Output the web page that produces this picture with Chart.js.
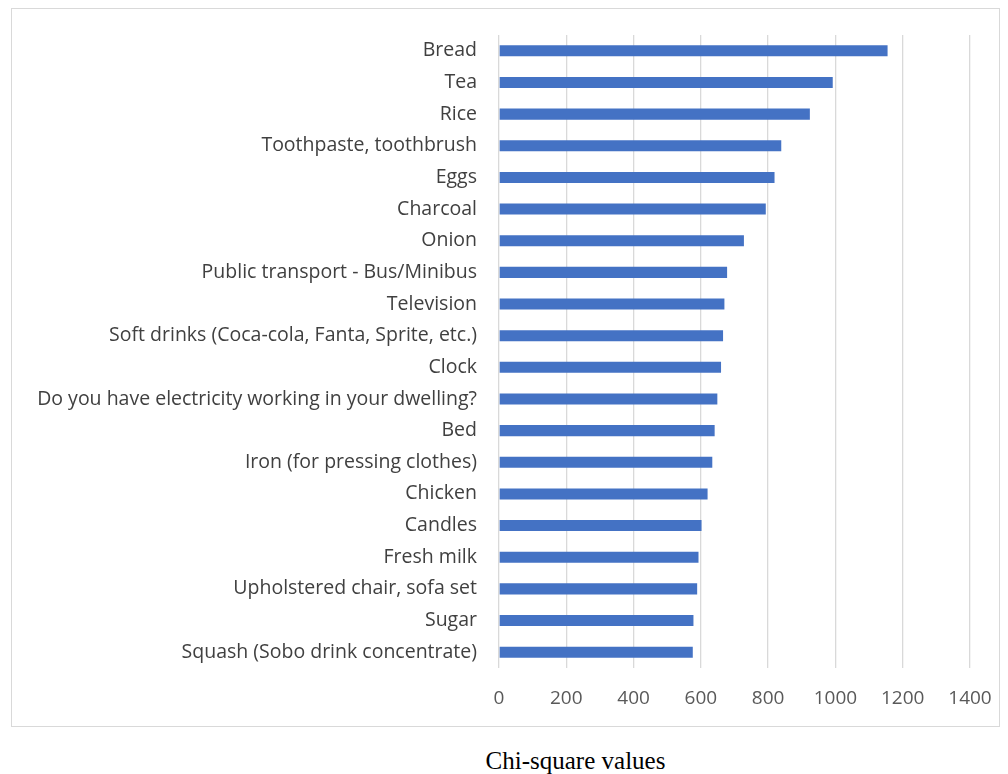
<!DOCTYPE html>
<html>
<head>
<meta charset="utf-8">
<script src="https://cdn.jsdelivr.net/npm/chart.js@4.4.1/dist/chart.umd.min.js"></script>
<style>
  body{margin:0;background:#fff;width:1008px;height:774px;position:relative;overflow:hidden;}
  #box{position:absolute;left:11px;top:8px;width:987px;height:717px;border:1px solid #d9d9d9;}
  #box canvas{display:block;}
  #xtitle{position:absolute;left:0;width:1151px;top:747px;text-align:center;
    font-family:"Liberation Serif","Times New Roman",serif;font-size:25px;color:#000;}
</style>
</head>
<body>
<div id="box"><canvas id="c" width="987" height="717"></canvas></div>
<div id="xtitle">Chi-square values</div>
<script>
/* ===== 資料 ===== */
const labels = [
  'Bread','Tea','Rice','Toothpaste, toothbrush','Eggs','Charcoal','Onion',
  'Public transport - Bus/Minibus','Television','Soft drinks (Coca-cola, Fanta, Sprite, etc.)',
  'Clock','Do you have electricity working in your dwelling?','Bed','Iron (for pressing clothes)',
  'Chicken','Candles','Fresh milk','Upholstered chair, sofa set','Sugar','Squash (Sobo drink concentrate)'
];
const chiValues = [1155,992,924,839,819,793,728,678,670,666,660,649,641,634,620,602,593,589,578,576];
const xTicks = [0,200,400,600,800,1000,1200,1400];

/* ===== 圖表 ===== */
const fontFam = '"Open Sans", sans-serif';
new Chart(document.getElementById('c'),{
  type:'bar',
  data:{ labels, datasets:[{
    data:chiValues,
    backgroundColor:'#4472C4',
    borderWidth:0,
    barPercentage:0.7,
    categoryPercentage:0.5
  }]},
  options:{
    indexAxis:'y',
    responsive:false,
    animation:false,
    layout:{ padding:{ top:26, right:29, bottom:0, left:0 } },
    plugins:{ legend:{display:false}, tooltip:{enabled:false} },
    scales:{
      x:{
        min:xTicks[0], max:xTicks[xTicks.length-1],
        afterBuildTicks:s=>{ s.ticks = xTicks.map(v=>({value:v})); },
        grid:{ color:'#d9d9d9', lineWidth:1.3, drawTicks:false },
        border:{ display:false },
        ticks:{ color:'#595959', font:{ family:fontFam, size:19 }, padding:19,
                callback:v=>String(v) },
        afterFit:s=>{ s.height = 58; s.paddingLeft = 0; s.paddingRight = 0; }
      },
      y:{
        grid:{ display:false },
        border:{ display:false },
        ticks:{ color:'#404040', font:{ family:fontFam, size:19.5 }, padding:14, autoSkip:false },
        afterFit:s=>{ s.width = 487; s.paddingTop = 0; s.paddingBottom = 0; }
      }
    }
  }
});
</script>
</body>
</html>
